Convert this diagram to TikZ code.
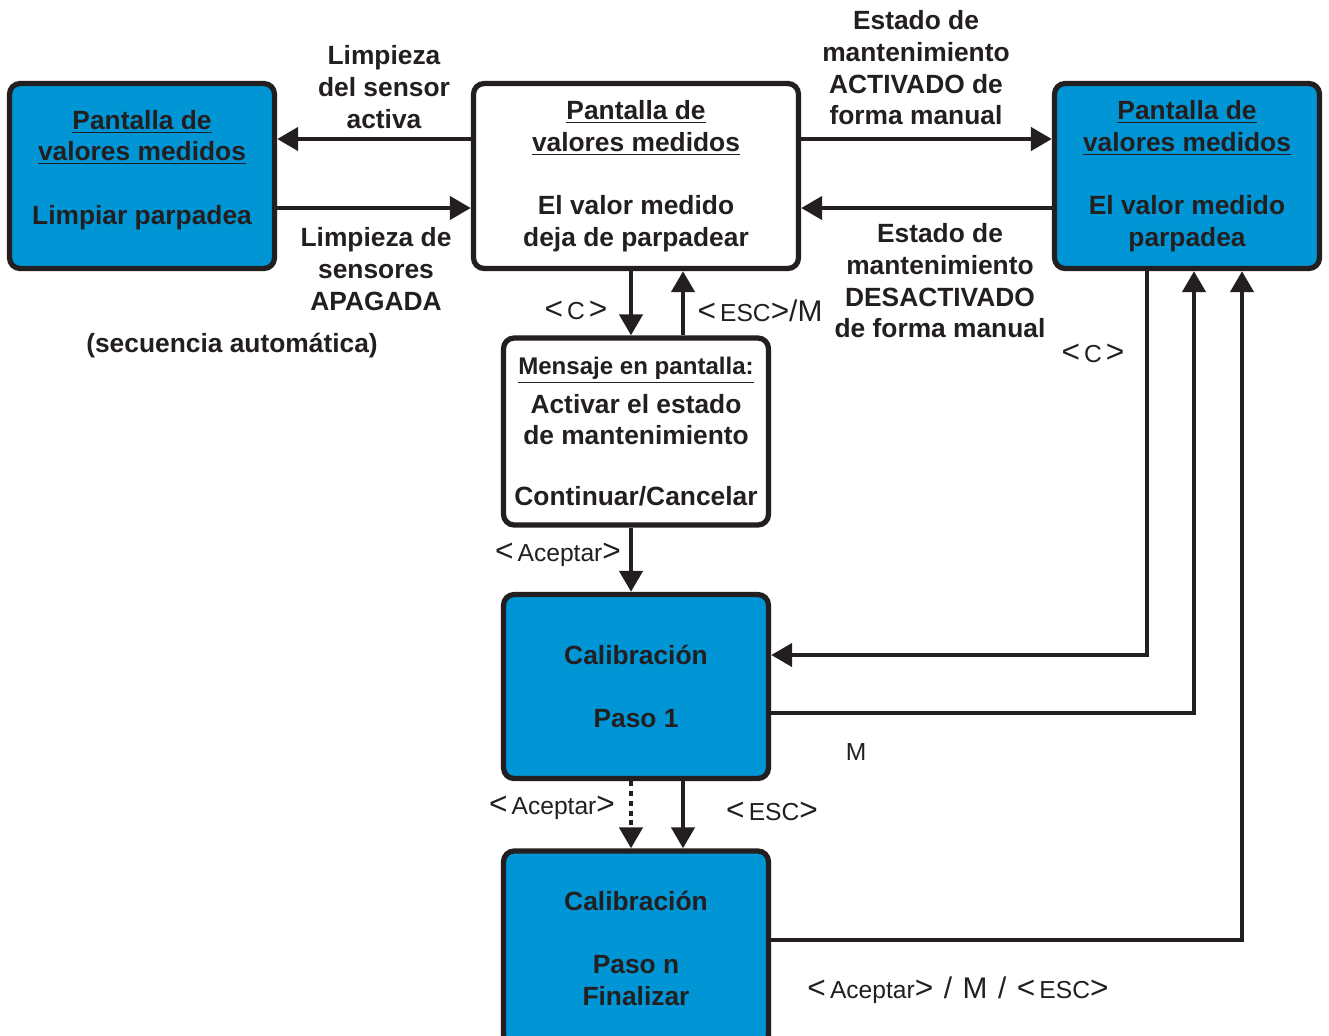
\documentclass[tikz,border=0pt]{standalone}
\usepackage{fontspec}
\setmainfont{Liberation Sans}
\usetikzlibrary{arrows.meta}
\definecolor{boxblue}{RGB}{0,150,214}
\definecolor{ink}{RGB}{35,31,32}
\newcommand{\keyL}{{\fontsize{18}{18}\selectfont<}}
\newcommand{\keyR}{{\fontsize{18}{18}\selectfont>}}

\begin{document}
\begin{tikzpicture}[x=0.02cm,y=-0.02cm,
    box/.style={draw=ink,line width=3pt,rounded corners=6pt,fill=white,
        minimum width=5.3cm,minimum height=3.7cm,inner sep=0pt,align=center,
        text=ink,font=\bfseries\fontsize{15}{18}\selectfont},
    bluebox/.style={box,fill=boxblue},
    lbl/.style={align=center,text=ink,inner sep=0pt,font=\bfseries\fontsize{15}{18}\selectfont},
    key/.style={text=ink,inner sep=0pt,font=\fontsize{14}{16}\selectfont},
    arr/.style={draw=ink,line width=2.8pt,-{Triangle[length=12pt,width=13pt]}},
    dotline/.style={dash pattern=on 2.8pt off 2.8pt}]
    \fill[white] (0,0) rectangle (1329,1035);
    \useasboundingbox (0,0) rectangle (1329,1035);
    % screens
    \node[bluebox,text depth=10pt] (lft) at (142,176) {\underline{Pantalla de}\\\underline{valores medidos}\\[18pt]Limpiar parpadea};
    \node[box,minimum width=6.5cm] (mid) at (636,176) {\underline{Pantalla de}\\\underline{valores medidos}\\[18pt]El valor medido\\deja de parpadear};
    \node[bluebox] (rgt) at (1187,176) {\underline{Pantalla de}\\\underline{valores medidos}\\[18pt]El valor medido\\parpadea};
    \node[box,minimum height=3.74cm] (msg) at (636,431.5) {{\fontsize{13.7}{18}\selectfont\underline{Mensaje en pantalla:}}\\[4pt]Activar el estado\\de mantenimiento\\[16.5pt]Continuar/Cancelar};
    \node[bluebox,minimum height=3.68cm] (cal1) at (636,686.5) {Calibración\\[18pt]Paso 1};
    \node[bluebox,minimum height=3.9cm] (caln) at (636,948.5) {Calibración\\[18pt]Paso n\\Finalizar};
    % labels
    \node[lbl] (cleanOn) at (384,87) {Limpieza\\del sensor\\activa};
    \node[lbl] (cleanOff) at (376,269) {Limpieza de\\sensores\\APAGADA};
    \node[lbl] (auto) at (232,346) {(secuencia automática)};
    \node[lbl] (maintOn) at (916,68) {Estado de\\mantenimiento\\ACTIVADO de\\forma manual};
    \node[lbl] (maintOff) at (940,281) {Estado de\\mantenimiento\\DESACTIVADO\\de forma manual};
    \node[key] (kC) at (576,310) {\keyL\,C\,\keyR};
    \node[key] (kEscM) at (760,311) {\keyL\,ESC\keyR{\fontsize{17}{17}\selectfont/M}};
    \node[key] (kC2) at (1093,353) {\keyL\,C\,\keyR};
    \node[key] (kAcc1) at (558,555) {\keyL\,Aceptar\keyR};
    \node[key] (kAcc2) at (552,808) {\keyL\,Aceptar\keyR};
    \node[key] (kEsc) at (772,811) {\keyL\,ESC\keyR};
    \node[key] (kM) at (856,752) {M};
    \node[key] (kAll) at (958,990) {\keyL\,Aceptar\keyR\hspace{6pt}{\fontsize{17}{17}\selectfont/\hspace{6pt}M\hspace{6pt}/}\hspace{6pt}\keyL\,ESC\keyR};
    % connectors
    \draw[arr] (mid.west |- 0,139) -- (lft.east |- 0,139);
    \draw[arr] (lft.east |- 0,208) -- (mid.west |- 0,208);
    \draw[arr] (mid.east |- 0,139) -- (rgt.west |- 0,139);
    \draw[arr] (rgt.west |- 0,208) -- (mid.east |- 0,208);
    \draw[arr] (mid.south -| 631,0) -- (msg.north -| 631,0);
    \draw[arr] (msg.north -| 683,0) -- (mid.south -| 683,0);
    \draw[arr] (msg.south -| 631,0) -- (cal1.north -| 631,0);
    \draw[arr,dotline] (cal1.south -| 631,0) -- (caln.north -| 631,0);
    \draw[arr] (cal1.south -| 683,0) -- (caln.north -| 683,0);
    \draw[arr] (rgt.south -| 1147,0) |- (cal1.east |- 0,655);
    \draw[arr] (cal1.east |- 0,713) -| (rgt.south -| 1194,0);
    \draw[arr] (caln.east |- 0,940) -| (rgt.south -| 1242,0);
\end{tikzpicture}
\end{document}
